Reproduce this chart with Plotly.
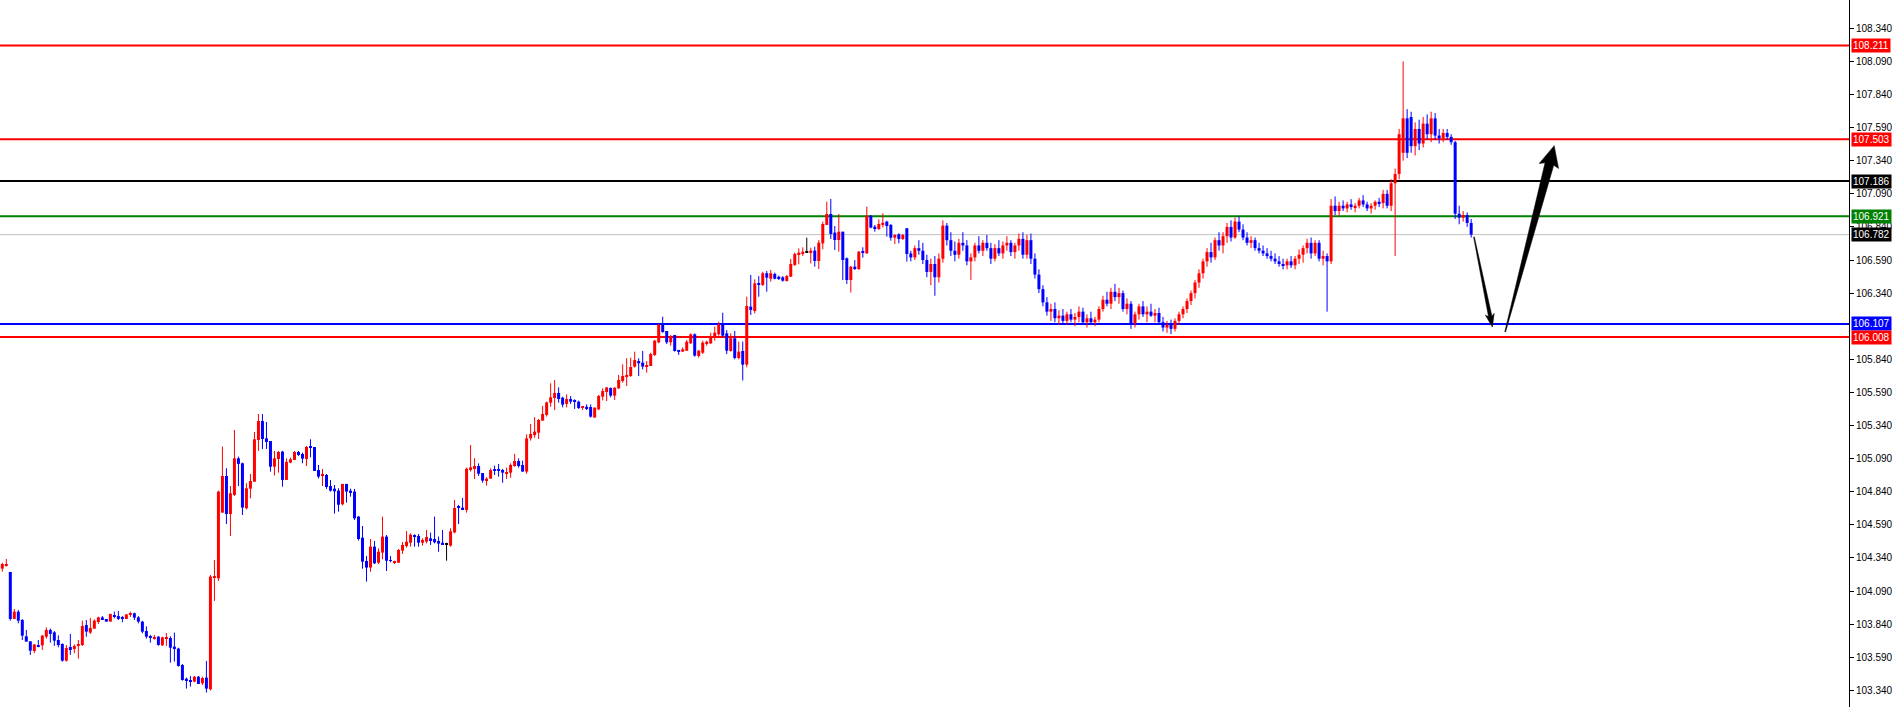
import math
import plotly.graph_objects as go

# ---------------- data ----------------
OPEN = [
    104.259, 104.282, 104.234, 103.879, 103.934, 103.871, 103.748, 103.710, 103.637, 103.682,
    103.680, 103.745, 103.796, 103.778, 103.720, 103.690, 103.564, 103.667, 103.652, 103.675,
    103.682, 103.833, 103.776, 103.806, 103.856, 103.891, 103.879, 103.859, 103.909, 103.901,
    103.886, 103.879, 103.912, 103.922, 103.891, 103.859, 103.788, 103.750, 103.733, 103.745,
    103.680, 103.730, 103.735, 103.670, 103.655, 103.531, 103.428, 103.418, 103.406, 103.443,
    103.393, 103.436, 103.348, 104.191, 104.186, 104.682, 104.959, 104.672, 104.816, 105.092,
    105.055, 104.715, 104.863, 104.916, 105.231, 105.374, 105.243, 105.223, 105.029, 105.087,
    105.143, 104.929, 105.060, 105.080, 105.140, 105.125, 105.087, 105.178, 105.178, 105.004,
    104.962, 104.967, 104.883, 104.863, 104.848, 104.745, 104.899, 104.848, 104.841, 104.652,
    104.493, 104.317, 104.267, 104.425, 104.304, 104.380, 104.501, 104.324, 104.304, 104.304,
    104.395, 104.430, 104.455, 104.513, 104.506, 104.455, 104.463, 104.488, 104.483, 104.468,
    104.455, 104.445, 104.433, 104.533, 104.727, 104.720, 104.702, 105.004, 105.019, 105.034,
    104.981, 104.926, 104.939, 105.004, 105.004, 105.004, 104.976, 104.984, 105.034, 105.072,
    105.042, 104.992, 105.243, 105.268, 105.286, 105.377, 105.420, 105.513, 105.548, 105.586,
    105.550, 105.503, 105.540, 105.528, 105.520, 105.475, 105.482, 105.480, 105.400, 105.462,
    105.558, 105.593, 105.623, 105.566, 105.621, 105.676, 105.707, 105.714, 105.785, 105.827,
    105.815, 105.785, 105.790, 105.873, 105.968, 106.104, 106.054, 105.968, 106.024, 105.911,
    105.898, 105.905, 105.961, 106.029, 105.865, 105.890, 105.956, 105.961, 106.006, 106.029,
    106.104, 106.036, 105.903, 105.999, 105.850, 105.903, 105.800, 106.238, 106.205, 106.414,
    106.402, 106.490, 106.449, 106.485, 106.464, 106.459, 106.432, 106.464, 106.553, 106.628,
    106.636, 106.651, 106.648, 106.661, 106.583, 106.716, 106.855, 106.938, 106.797, 106.741,
    106.804, 106.603, 106.439, 106.540, 106.522, 106.653, 106.641, 106.925, 106.842, 106.824,
    106.855, 106.880, 106.855, 106.759, 106.784, 106.749, 106.830, 106.640, 106.610, 106.680,
    106.660, 106.590, 106.500, 106.560, 106.460, 106.600, 106.850, 106.740, 106.660, 106.630,
    106.720, 106.700, 106.580, 106.610, 106.700, 106.660, 106.720, 106.680, 106.600, 106.680,
    106.640, 106.700, 106.720, 106.650, 106.700, 106.750, 106.630, 106.740, 106.600, 106.480,
    106.370, 106.270, 106.200, 106.220, 106.150, 106.170, 106.130, 106.180, 106.140, 106.160,
    106.200, 106.120, 106.150, 106.120, 106.140, 106.220, 106.290, 106.260, 106.350, 106.310,
    106.340, 106.220, 106.260, 106.110, 106.180, 106.240, 106.180, 106.200, 106.170, 106.190,
    106.120, 106.080, 106.100, 106.070, 106.130, 106.180, 106.220, 106.280, 106.340, 106.420,
    106.490, 106.580, 106.650, 106.610, 106.740, 106.700, 106.770, 106.840, 106.760, 106.880,
    106.820, 106.760, 106.720, 106.740, 106.680, 106.660, 106.640, 106.620, 106.600, 106.580,
    106.560, 106.550, 106.580, 106.550, 106.600, 106.630, 106.680, 106.720, 106.640, 106.720,
    106.600, 106.620, 106.580, 107.000, 106.960, 107.000, 106.980, 107.010, 106.990, 107.000,
    107.040, 107.010, 106.980, 107.000, 107.030, 107.020, 107.090, 107.000, 107.170, 107.240,
    107.400, 107.660, 107.670, 107.450, 107.580, 107.470, 107.620, 107.540, 107.660, 107.530,
    107.510, 107.550, 107.520, 107.480, 106.940, 106.910, 106.930, 106.870,
]
HIGH = [
    104.304, 104.332, 104.234, 103.954, 103.947, 103.879, 103.796, 103.710, 103.687, 103.720,
    103.758, 103.816, 103.806, 103.788, 103.755, 103.695, 103.682, 103.766, 103.687, 103.720,
    103.866, 103.871, 103.886, 103.876, 103.896, 103.901, 103.879, 103.917, 103.934, 103.939,
    103.901, 103.914, 103.934, 103.927, 103.901, 103.864, 103.823, 103.758, 103.758, 103.750,
    103.745, 103.773, 103.748, 103.776, 103.662, 103.539, 103.436, 103.448, 103.448, 103.448,
    103.443, 103.562, 104.211, 104.325, 104.848, 105.181, 105.017, 104.883, 105.306, 105.105,
    105.060, 104.904, 104.974, 105.291, 105.427, 105.427, 105.367, 105.223, 105.148, 105.148,
    105.148, 105.092, 105.097, 105.148, 105.148, 105.135, 105.186, 105.236, 105.178, 105.042,
    105.012, 104.974, 104.929, 104.891, 104.866, 104.899, 104.899, 104.863, 104.861, 104.657,
    104.581, 104.355, 104.483, 104.468, 104.412, 104.652, 104.513, 104.355, 104.319, 104.407,
    104.460, 104.543, 104.526, 104.518, 104.521, 104.488, 104.551, 104.531, 104.652, 104.501,
    104.551, 104.455, 104.564, 104.777, 104.740, 104.793, 105.022, 105.193, 105.092, 105.054,
    104.981, 104.949, 105.017, 105.037, 105.049, 105.012, 105.022, 105.054, 105.125, 105.092,
    105.075, 105.273, 105.352, 105.404, 105.389, 105.487, 105.520, 105.659, 105.684, 105.628,
    105.558, 105.576, 105.563, 105.538, 105.528, 105.480, 105.500, 105.500, 105.477, 105.571,
    105.621, 105.628, 105.628, 105.628, 105.722, 105.802, 105.848, 105.853, 105.898, 105.848,
    105.903, 105.827, 105.890, 105.986, 106.104, 106.162, 106.054, 106.024, 106.024, 105.911,
    105.931, 105.986, 106.036, 106.036, 105.911, 105.981, 105.981, 106.041, 106.087, 106.124,
    106.192, 106.061, 106.036, 106.054, 105.974, 105.974, 106.313, 106.477, 106.444, 106.469,
    106.502, 106.507, 106.515, 106.495, 106.472, 106.469, 106.477, 106.598, 106.646, 106.678,
    106.686, 106.759, 106.683, 106.691, 106.741, 106.880, 107.031, 107.051, 106.847, 106.938,
    106.804, 106.610, 106.545, 106.590, 106.658, 106.686, 106.993, 106.930, 106.855, 106.897,
    106.943, 106.887, 106.862, 106.784, 106.792, 106.787, 106.830, 106.660, 106.700, 106.740,
    106.720, 106.630, 106.600, 106.620, 106.640, 106.890, 106.870, 106.800, 106.730, 106.750,
    106.800, 106.740, 106.640, 106.720, 106.770, 106.740, 106.780, 106.720, 106.710, 106.740,
    106.730, 106.770, 106.740, 106.720, 106.790, 106.800, 106.780, 106.790, 106.640, 106.520,
    106.400, 106.310, 106.260, 106.270, 106.210, 106.220, 106.200, 106.220, 106.190, 106.240,
    106.230, 106.180, 106.200, 106.160, 106.240, 106.320, 106.350, 106.380, 106.410, 106.380,
    106.360, 106.300, 106.280, 106.200, 106.260, 106.280, 106.240, 106.260, 106.220, 106.230,
    106.160, 106.130, 106.140, 106.150, 106.200, 106.240, 106.300, 106.360, 106.440, 106.520,
    106.600, 106.680, 106.720, 106.760, 106.800, 106.800, 106.870, 106.890, 106.910, 106.920,
    106.860, 106.800, 106.770, 106.760, 106.720, 106.700, 106.680, 106.660, 106.640, 106.620,
    106.600, 106.600, 106.620, 106.620, 106.670, 106.700, 106.750, 106.760, 106.740, 106.740,
    106.660, 106.640, 107.050, 107.070, 107.030, 107.040, 107.030, 107.050, 107.020, 107.060,
    107.080, 107.030, 107.020, 107.040, 107.060, 107.120, 107.120, 107.200, 107.280, 107.580,
    108.090, 107.730, 107.710, 107.630, 107.650, 107.670, 107.690, 107.710, 107.700, 107.580,
    107.580, 107.580, 107.540, 107.490, 107.000, 106.960, 106.950, 106.900,
]
LOW = [
    104.236, 104.274, 103.866, 103.879, 103.846, 103.720, 103.708, 103.607, 103.620, 103.665,
    103.645, 103.730, 103.700, 103.675, 103.665, 103.557, 103.557, 103.607, 103.620, 103.579,
    103.675, 103.745, 103.766, 103.806, 103.841, 103.871, 103.859, 103.859, 103.884, 103.871,
    103.854, 103.879, 103.894, 103.871, 103.846, 103.771, 103.730, 103.700, 103.723, 103.677,
    103.675, 103.675, 103.549, 103.557, 103.519, 103.413, 103.353, 103.368, 103.401, 103.388,
    103.380, 103.323, 103.338, 104.015, 104.166, 104.682, 104.596, 104.506, 104.808, 104.883,
    104.664, 104.707, 104.790, 104.916, 105.148, 105.163, 105.163, 104.992, 104.962, 104.984,
    104.878, 104.929, 105.055, 105.080, 105.110, 105.055, 105.034, 105.100, 104.997, 104.941,
    104.883, 104.861, 104.841, 104.675, 104.690, 104.737, 104.758, 104.803, 104.627, 104.471,
    104.259, 104.161, 104.236, 104.294, 104.294, 104.329, 104.241, 104.307, 104.294, 104.304,
    104.370, 104.418, 104.425, 104.425, 104.425, 104.433, 104.450, 104.438, 104.450, 104.387,
    104.443, 104.319, 104.425, 104.526, 104.596, 104.702, 104.682, 104.992, 104.936, 104.959,
    104.908, 104.886, 104.939, 104.966, 104.954, 104.908, 104.936, 104.946, 105.029, 105.022,
    104.992, 104.976, 105.226, 105.248, 105.238, 105.377, 105.407, 105.482, 105.457, 105.513,
    105.477, 105.477, 105.503, 105.465, 105.465, 105.457, 105.457, 105.400, 105.400, 105.457,
    105.530, 105.525, 105.553, 105.533, 105.616, 105.664, 105.639, 105.707, 105.777, 105.714,
    105.764, 105.739, 105.790, 105.865, 105.961, 106.041, 105.956, 105.943, 105.898, 105.873,
    105.898, 105.905, 105.956, 105.860, 105.853, 105.880, 105.943, 105.956, 105.981, 106.019,
    106.011, 105.880, 105.898, 105.840, 105.840, 105.680, 105.780, 106.175, 106.187, 106.313,
    106.394, 106.351, 106.427, 106.444, 106.439, 106.427, 106.427, 106.464, 106.545, 106.558,
    106.621, 106.646, 106.565, 106.540, 106.522, 106.671, 106.855, 106.749, 106.666, 106.653,
    106.439, 106.409, 106.344, 106.515, 106.515, 106.608, 106.636, 106.830, 106.804, 106.817,
    106.837, 106.767, 106.736, 106.711, 106.716, 106.741, 106.578, 106.580, 106.590, 106.630,
    106.560, 106.460, 106.400, 106.320, 106.420, 106.570, 106.700, 106.620, 106.580, 106.600,
    106.660, 106.550, 106.440, 106.580, 106.640, 106.620, 106.660, 106.560, 106.580, 106.620,
    106.600, 106.660, 106.620, 106.600, 106.660, 106.600, 106.600, 106.560, 106.450, 106.340,
    106.240, 106.170, 106.130, 106.120, 106.100, 106.110, 106.100, 106.120, 106.090, 106.120,
    106.100, 106.080, 106.100, 106.090, 106.120, 106.200, 106.240, 106.220, 106.280, 106.260,
    106.200, 106.180, 106.070, 106.080, 106.140, 106.160, 106.120, 106.160, 106.120, 106.100,
    106.050, 106.040, 106.030, 106.050, 106.100, 106.150, 106.190, 106.250, 106.300, 106.380,
    106.450, 106.540, 106.570, 106.590, 106.660, 106.640, 106.720, 106.730, 106.750, 106.800,
    106.740, 106.700, 106.680, 106.660, 106.640, 106.620, 106.600, 106.580, 106.560, 106.540,
    106.520, 106.520, 106.530, 106.520, 106.560, 106.570, 106.640, 106.600, 106.620, 106.580,
    106.550, 106.200, 106.560, 106.930, 106.920, 106.960, 106.950, 106.970, 106.950, 106.980,
    106.990, 106.960, 106.940, 106.970, 106.990, 106.980, 106.980, 106.960, 106.620, 107.200,
    107.340, 107.360, 107.400, 107.380, 107.420, 107.440, 107.500, 107.480, 107.500, 107.470,
    107.480, 107.500, 107.460, 106.900, 106.860, 106.880, 106.840, 106.760,
]
CLOSE = [
    104.294, 104.294, 103.879, 103.934, 103.866, 103.753, 103.708, 103.640, 103.687, 103.670,
    103.753, 103.796, 103.766, 103.715, 103.682, 103.564, 103.660, 103.652, 103.675, 103.690,
    103.826, 103.783, 103.811, 103.866, 103.891, 103.871, 103.859, 103.917, 103.894, 103.879,
    103.879, 103.914, 103.919, 103.889, 103.859, 103.783, 103.745, 103.738, 103.743, 103.682,
    103.740, 103.735, 103.662, 103.655, 103.524, 103.418, 103.415, 103.406, 103.443, 103.388,
    103.433, 103.353, 104.199, 104.196, 104.841, 104.959, 104.672, 104.828, 105.092, 105.050,
    104.720, 104.866, 104.921, 105.236, 105.374, 105.238, 105.216, 105.029, 105.092, 105.140,
    104.929, 105.065, 105.085, 105.140, 105.118, 105.090, 105.178, 105.173, 104.997, 104.954,
    104.967, 104.876, 104.848, 104.843, 104.742, 104.899, 104.841, 104.833, 104.639, 104.483,
    104.312, 104.267, 104.425, 104.299, 104.387, 104.501, 104.319, 104.317, 104.309, 104.400,
    104.438, 104.463, 104.516, 104.501, 104.455, 104.475, 104.498, 104.475, 104.458, 104.448,
    104.443, 104.445, 104.541, 104.717, 104.720, 104.707, 105.014, 105.024, 105.034, 104.976,
    104.924, 104.939, 105.004, 104.999, 104.999, 104.984, 104.989, 105.042, 105.072, 105.034,
    104.992, 105.243, 105.276, 105.294, 105.382, 105.427, 105.515, 105.553, 105.586, 105.540,
    105.498, 105.540, 105.520, 105.523, 105.472, 105.480, 105.472, 105.407, 105.475, 105.563,
    105.601, 105.628, 105.566, 105.626, 105.684, 105.714, 105.722, 105.782, 105.835, 105.810,
    105.785, 105.797, 105.880, 105.981, 106.104, 106.046, 105.968, 106.006, 105.903, 105.898,
    105.916, 105.973, 106.029, 105.868, 105.905, 105.966, 105.973, 106.011, 106.041, 106.104,
    106.019, 105.905, 105.999, 105.850, 105.898, 105.800, 106.243, 106.213, 106.414, 106.402,
    106.490, 106.457, 106.490, 106.449, 106.452, 106.434, 106.469, 106.560, 106.636, 106.646,
    106.653, 106.651, 106.661, 106.583, 106.721, 106.862, 106.938, 106.787, 106.741, 106.804,
    106.590, 106.439, 106.540, 106.522, 106.653, 106.646, 106.925, 106.835, 106.824, 106.862,
    106.872, 106.847, 106.759, 106.779, 106.749, 106.779, 106.636, 106.610, 106.680, 106.660,
    106.590, 106.500, 106.560, 106.460, 106.600, 106.850, 106.740, 106.660, 106.630, 106.720,
    106.700, 106.580, 106.610, 106.700, 106.660, 106.720, 106.680, 106.600, 106.680, 106.640,
    106.700, 106.720, 106.650, 106.700, 106.750, 106.630, 106.740, 106.600, 106.480, 106.370,
    106.270, 106.200, 106.220, 106.150, 106.170, 106.130, 106.180, 106.140, 106.160, 106.200,
    106.120, 106.150, 106.120, 106.140, 106.220, 106.290, 106.260, 106.350, 106.310, 106.340,
    106.220, 106.260, 106.110, 106.180, 106.240, 106.180, 106.200, 106.170, 106.190, 106.120,
    106.080, 106.100, 106.070, 106.130, 106.180, 106.220, 106.280, 106.340, 106.420, 106.490,
    106.580, 106.650, 106.610, 106.740, 106.700, 106.770, 106.840, 106.760, 106.880, 106.820,
    106.760, 106.720, 106.740, 106.680, 106.660, 106.640, 106.620, 106.600, 106.580, 106.560,
    106.550, 106.580, 106.550, 106.600, 106.630, 106.680, 106.720, 106.640, 106.720, 106.600,
    106.620, 106.580, 107.000, 106.960, 107.000, 106.980, 107.010, 106.990, 107.000, 107.040,
    107.010, 106.980, 107.000, 107.030, 107.020, 107.090, 107.000, 107.170, 107.240, 107.540,
    107.660, 107.400, 107.450, 107.580, 107.470, 107.620, 107.540, 107.660, 107.530, 107.510,
    107.550, 107.520, 107.480, 106.940, 106.910, 106.930, 106.870, 106.782,
]

TICK_VALUES = [108.340, 108.090, 107.840, 107.590, 107.340, 107.090, 106.840, 106.590,
               106.340, 105.840, 105.590, 105.340, 105.090, 104.840, 104.590, 104.340,
               104.090, 103.840, 103.590, 103.340]

LEVEL_PRICES = [108.211, 107.503, 107.186, 106.921, 106.107, 106.008]
LEVEL_COLORS = ["#FF0000", "#FF0000", "#000000", "#008000", "#0000FF", "#FF0000"]
BID_PRICE = 106.782

# arrows: (start, end) in (bar index, price)
ARROW_DOWN = [(368.7, 106.764), (373.3, 106.084)]
ARROW_UP = [(376.5, 106.048), (388.75, 107.454)]

# ---------------- layout constants ----------------
W, H = 1893, 707
MARGIN_R = 44
Y_RANGE = [103.214, 108.554]
X_RANGE = [0.425, 462.4]
BULL, BEAR, DOJI = "#FF0000", "#0000FF", "#000000"

assert len(OPEN) == len(HIGH) == len(LOW) == len(CLOSE)
n = len(OPEN)
idx = list(range(1, n + 1))
one_px = (Y_RANGE[1] - Y_RANGE[0]) / H

body_base, body_h, body_col = [], [], []
wicks = {BULL: ([], []), BEAR: ([], []), DOJI: ([], [])}
for i, o, h, l, c in zip(idx, OPEN, HIGH, LOW, CLOSE):
    col = BULL if c > o else (BEAR if c < o else DOJI)
    lo, hi = min(o, c), max(o, c)
    hh = max(hi - lo, one_px)
    mid = (lo + hi) / 2
    body_base.append(mid - hh / 2)
    body_h.append(hh)
    body_col.append(col)
    xs, ys = wicks[col]
    xs += [i, i, None]
    ys += [l, h, None]

fig = go.Figure()
for col, (xs, ys) in wicks.items():
    fig.add_trace(go.Scatter(x=xs, y=ys, mode="lines",
                             line=dict(color=col, width=1),
                             hoverinfo="skip", showlegend=False))
fig.add_trace(go.Bar(x=idx, y=body_h, base=body_base, width=0.75,
                     marker=dict(color=body_col, line=dict(width=0)),
                     hoverinfo="skip", showlegend=False))

shapes = []
for p, col in zip(LEVEL_PRICES, LEVEL_COLORS):
    shapes.append(dict(type="line", xref="paper", x0=0, x1=1, yref="y", y0=p, y1=p,
                       line=dict(color=col, width=2), layer="below"))
shapes.append(dict(type="line", xref="paper", x0=0, x1=1, yref="y", y0=BID_PRICE, y1=BID_PRICE,
                   line=dict(color="#C0C0C0", width=1), layer="below"))

plot_w = W - MARGIN_R


def to_px(x, y):
    px = (x - X_RANGE[0]) / (X_RANGE[1] - X_RANGE[0]) * plot_w
    py = (Y_RANGE[1] - y) / (Y_RANGE[1] - Y_RANGE[0]) * H
    return px, py


def to_data(px, py):
    x = X_RANGE[0] + px / plot_w * (X_RANGE[1] - X_RANGE[0])
    y = Y_RANGE[1] - py / H * (Y_RANGE[1] - Y_RANGE[0])
    return x, y


def arrow_path(start, end, w0, w1, head_w, head_l):
    sx, sy = to_px(*start)
    tx, ty = to_px(*end)
    dx, dy = tx - sx, ty - sy
    L = math.hypot(dx, dy)
    ux, uy = dx / L, dy / L
    vx, vy = -uy, ux
    bx, by = tx - ux * head_l, ty - uy * head_l
    pts = [
        (sx + vx * w0 / 2, sy + vy * w0 / 2),
        (bx + vx * w1 / 2, by + vy * w1 / 2),
        (bx + vx * head_w / 2 - ux * 2, by + vy * head_w / 2 - uy * 2),
        (tx, ty),
        (bx - vx * head_w / 2 - ux * 2, by - vy * head_w / 2 - uy * 2),
        (bx - vx * w1 / 2, by - vy * w1 / 2),
        (sx - vx * w0 / 2, sy - vy * w0 / 2),
    ]
    d = [to_data(*p) for p in pts]
    return "M " + " L ".join(f"{x:.4f},{y:.5f}" for x, y in d) + " Z"


for (s, e), params in ((ARROW_DOWN, (0.8, 3.5, 9, 11)), (ARROW_UP, (0.8, 9, 20, 19))):
    shapes.append(dict(type="path", xref="x", yref="y", path=arrow_path(s, e, *params),
                       fillcolor="#000000", line=dict(color="#000000", width=0.5), layer="above"))

annotations = []
for p, col in list(zip(LEVEL_PRICES, LEVEL_COLORS)) + [(BID_PRICE, "#000000")]:
    annotations.append(dict(xref="paper", x=1, xanchor="left", xshift=2,
                            yref="y", y=p, yanchor="middle",
                            text=f"{p:.3f}", showarrow=False,
                            font=dict(family="Liberation Sans, Arial, sans-serif", size=10, color="#FFFFFF"),
                            bgcolor=col, borderpad=1))

fig.update_layout(
    width=W, height=H,
    margin=dict(l=0, r=MARGIN_R, t=0, b=0, autoexpand=False),
    paper_bgcolor="#FFFFFF", plot_bgcolor="#FFFFFF",
    barmode="overlay", showlegend=False,
    shapes=shapes, annotations=annotations,
    xaxis=dict(visible=False, range=X_RANGE, fixedrange=True),
    yaxis=dict(range=Y_RANGE, side="right", showgrid=False, zeroline=False,
               showline=True, linecolor="#000000", linewidth=1,
               ticks="outside", ticklen=4, tickcolor="#000000",
               tickvals=TICK_VALUES, ticktext=[f"{v:.3f}" for v in TICK_VALUES],
               tickfont=dict(family="Liberation Sans, Arial, sans-serif", size=10, color="#000000"),
               fixedrange=True, automargin=False),
)

fig.write_html("out.html", config={"displayModeBar": False},
               post_script="document.body.style.margin='0';document.body.style.overflow='hidden';")
